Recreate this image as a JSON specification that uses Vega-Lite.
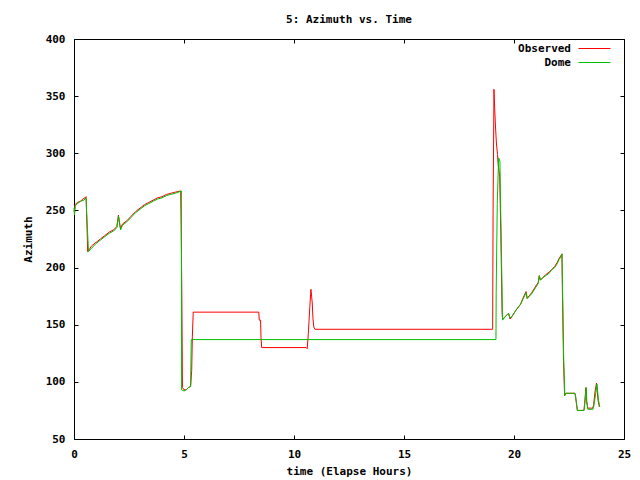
{
  "$schema": "https://vega.github.io/schema/vega-lite/v6.json",
  "width": 550,
  "height": 400,
  "autosize": "none",
  "padding": {"left": 74, "top": 39, "right": 16, "bottom": 41},
  "background": "white",
  "config": {
    "font": "DejaVu Sans Mono",
    "view": {"stroke": "black", "strokeWidth": 1},
    "axis": {"grid": false, "domain": false, "labelFlush": false, "tickColor": "black", "tickSize": -4, "labelColor": "black", "labelFont": "DejaVu Sans Mono", "labelFontWeight": "bold", "labelFontSize": 11, "titleFont": "DejaVu Sans Mono", "titleFontWeight": "bold", "titleFontSize": 11, "titleColor": "black"}
  },
  "title": {"text": "5: Azimuth vs. Time", "font": "DejaVu Sans Mono", "fontSize": 11, "fontWeight": "bold", "color": "black", "baseline": "alphabetic", "offset": -1},
  "data": {"values": [
    {"s":"Observed","t":0.00,"a":250},{"s":"Observed","t":0.03,"a":248},{"s":"Observed","t":0.05,"a":255},{"s":"Observed","t":0.15,"a":257},{"s":"Observed","t":0.30,"a":258},{"s":"Observed","t":0.40,"a":260},{"s":"Observed","t":0.50,"a":261},{"s":"Observed","t":0.55,"a":262},{"s":"Observed","t":0.57,"a":250},{"s":"Observed","t":0.60,"a":230},{"s":"Observed","t":0.62,"a":214},{"s":"Observed","t":0.70,"a":216},{"s":"Observed","t":0.80,"a":219},{"s":"Observed","t":1.00,"a":222},{"s":"Observed","t":1.20,"a":225},{"s":"Observed","t":1.40,"a":228},{"s":"Observed","t":1.60,"a":231},{"s":"Observed","t":1.80,"a":233},{"s":"Observed","t":1.95,"a":236},{"s":"Observed","t":2.02,"a":246},{"s":"Observed","t":2.08,"a":238},{"s":"Observed","t":2.12,"a":234},{"s":"Observed","t":2.20,"a":238},{"s":"Observed","t":2.40,"a":241},{"s":"Observed","t":2.60,"a":245},{"s":"Observed","t":2.80,"a":249},{"s":"Observed","t":3.00,"a":252},{"s":"Observed","t":3.20,"a":255},{"s":"Observed","t":3.40,"a":257},{"s":"Observed","t":3.60,"a":259},{"s":"Observed","t":3.80,"a":261},{"s":"Observed","t":4.00,"a":262},{"s":"Observed","t":4.20,"a":264},{"s":"Observed","t":4.40,"a":265},{"s":"Observed","t":4.60,"a":266},{"s":"Observed","t":4.85,"a":267},{"s":"Observed","t":4.87,"a":237},{"s":"Observed","t":4.90,"a":180},{"s":"Observed","t":4.93,"a":95},{"s":"Observed","t":5.00,"a":93},{"s":"Observed","t":5.10,"a":93},{"s":"Observed","t":5.20,"a":95},{"s":"Observed","t":5.30,"a":96},{"s":"Observed","t":5.35,"a":110},{"s":"Observed","t":5.38,"a":140},{"s":"Observed","t":5.42,"a":161},{"s":"Observed","t":8.40,"a":161},{"s":"Observed","t":8.42,"a":154},{"s":"Observed","t":8.48,"a":154},{"s":"Observed","t":8.50,"a":139},{"s":"Observed","t":8.53,"a":130},{"s":"Observed","t":10.55,"a":130},{"s":"Observed","t":10.60,"a":129},{"s":"Observed","t":10.65,"a":142},{"s":"Observed","t":10.72,"a":166},{"s":"Observed","t":10.77,"a":181},{"s":"Observed","t":10.80,"a":175},{"s":"Observed","t":10.83,"a":169},{"s":"Observed","t":10.86,"a":156},{"s":"Observed","t":10.90,"a":148},{"s":"Observed","t":10.95,"a":146},{"s":"Observed","t":19.03,"a":146},{"s":"Observed","t":19.05,"a":252},{"s":"Observed","t":19.09,"a":356},{"s":"Observed","t":19.12,"a":340},{"s":"Observed","t":19.16,"a":323},{"s":"Observed","t":19.20,"a":309},{"s":"Observed","t":19.25,"a":299},{"s":"Observed","t":19.28,"a":290},{"s":"Observed","t":19.35,"a":280},{"s":"Observed","t":19.40,"a":230},{"s":"Observed","t":19.46,"a":160},{"s":"Observed","t":19.48,"a":155},{"s":"Observed","t":19.55,"a":156},{"s":"Observed","t":19.65,"a":158},{"s":"Observed","t":19.75,"a":160},{"s":"Observed","t":19.82,"a":155},{"s":"Observed","t":19.90,"a":157},{"s":"Observed","t":20.10,"a":163},{"s":"Observed","t":20.30,"a":168},{"s":"Observed","t":20.40,"a":173},{"s":"Observed","t":20.55,"a":179},{"s":"Observed","t":20.60,"a":173},{"s":"Observed","t":20.80,"a":178},{"s":"Observed","t":21.00,"a":184},{"s":"Observed","t":21.10,"a":187},{"s":"Observed","t":21.15,"a":193},{"s":"Observed","t":21.20,"a":189},{"s":"Observed","t":21.30,"a":191},{"s":"Observed","t":21.45,"a":194},{"s":"Observed","t":21.60,"a":196},{"s":"Observed","t":21.70,"a":198},{"s":"Observed","t":21.85,"a":201},{"s":"Observed","t":21.95,"a":204},{"s":"Observed","t":22.05,"a":208},{"s":"Observed","t":22.15,"a":211},{"s":"Observed","t":22.18,"a":212},{"s":"Observed","t":22.20,"a":180},{"s":"Observed","t":22.25,"a":119},{"s":"Observed","t":22.30,"a":88},{"s":"Observed","t":22.35,"a":90},{"s":"Observed","t":22.77,"a":90},{"s":"Observed","t":22.80,"a":87},{"s":"Observed","t":22.88,"a":75},{"s":"Observed","t":23.18,"a":75},{"s":"Observed","t":23.21,"a":81},{"s":"Observed","t":23.27,"a":95},{"s":"Observed","t":23.30,"a":83},{"s":"Observed","t":23.35,"a":77},{"s":"Observed","t":23.58,"a":77},{"s":"Observed","t":23.62,"a":80},{"s":"Observed","t":23.68,"a":91},{"s":"Observed","t":23.75,"a":99},{"s":"Observed","t":23.82,"a":84},{"s":"Observed","t":23.88,"a":78},
    {"s":"Dome","t":0.00,"a":252},{"s":"Dome","t":0.02,"a":246},{"s":"Dome","t":0.05,"a":254},{"s":"Dome","t":0.15,"a":256},{"s":"Dome","t":0.30,"a":258},{"s":"Dome","t":0.45,"a":259},{"s":"Dome","t":0.55,"a":261},{"s":"Dome","t":0.57,"a":250},{"s":"Dome","t":0.62,"a":230},{"s":"Dome","t":0.66,"a":214},{"s":"Dome","t":0.80,"a":217},{"s":"Dome","t":1.00,"a":221},{"s":"Dome","t":1.20,"a":224},{"s":"Dome","t":1.40,"a":227},{"s":"Dome","t":1.60,"a":230},{"s":"Dome","t":1.80,"a":232},{"s":"Dome","t":1.95,"a":235},{"s":"Dome","t":2.02,"a":245},{"s":"Dome","t":2.08,"a":237},{"s":"Dome","t":2.12,"a":233},{"s":"Dome","t":2.20,"a":237},{"s":"Dome","t":2.40,"a":240},{"s":"Dome","t":2.60,"a":244},{"s":"Dome","t":2.80,"a":248},{"s":"Dome","t":3.00,"a":251},{"s":"Dome","t":3.20,"a":254},{"s":"Dome","t":3.40,"a":256},{"s":"Dome","t":3.60,"a":258},{"s":"Dome","t":3.80,"a":260},{"s":"Dome","t":4.00,"a":261},{"s":"Dome","t":4.20,"a":263},{"s":"Dome","t":4.40,"a":264},{"s":"Dome","t":4.60,"a":265},{"s":"Dome","t":4.88,"a":267},{"s":"Dome","t":4.89,"a":93},{"s":"Dome","t":5.00,"a":92},{"s":"Dome","t":5.10,"a":93},{"s":"Dome","t":5.20,"a":95},{"s":"Dome","t":5.30,"a":96},{"s":"Dome","t":5.33,"a":137},{"s":"Dome","t":19.18,"a":137},{"s":"Dome","t":19.19,"a":178},{"s":"Dome","t":19.24,"a":256},{"s":"Dome","t":19.30,"a":296},{"s":"Dome","t":19.36,"a":293},{"s":"Dome","t":19.39,"a":256},{"s":"Dome","t":19.45,"a":189},{"s":"Dome","t":19.48,"a":154},{"s":"Dome","t":19.60,"a":157},{"s":"Dome","t":19.75,"a":160},{"s":"Dome","t":19.82,"a":156},{"s":"Dome","t":19.90,"a":157},{"s":"Dome","t":20.10,"a":163},{"s":"Dome","t":20.30,"a":168},{"s":"Dome","t":20.40,"a":172},{"s":"Dome","t":20.55,"a":178},{"s":"Dome","t":20.60,"a":173},{"s":"Dome","t":20.80,"a":177},{"s":"Dome","t":21.00,"a":183},{"s":"Dome","t":21.10,"a":186},{"s":"Dome","t":21.15,"a":193},{"s":"Dome","t":21.20,"a":189},{"s":"Dome","t":21.30,"a":191},{"s":"Dome","t":21.45,"a":193},{"s":"Dome","t":21.60,"a":195},{"s":"Dome","t":21.70,"a":198},{"s":"Dome","t":21.85,"a":200},{"s":"Dome","t":21.95,"a":203},{"s":"Dome","t":22.05,"a":207},{"s":"Dome","t":22.15,"a":210},{"s":"Dome","t":22.18,"a":212},{"s":"Dome","t":22.21,"a":180},{"s":"Dome","t":22.26,"a":119},{"s":"Dome","t":22.31,"a":88},{"s":"Dome","t":22.36,"a":90},{"s":"Dome","t":22.77,"a":90},{"s":"Dome","t":22.80,"a":87},{"s":"Dome","t":22.88,"a":75},{"s":"Dome","t":23.18,"a":75},{"s":"Dome","t":23.22,"a":81},{"s":"Dome","t":23.28,"a":95},{"s":"Dome","t":23.31,"a":83},{"s":"Dome","t":23.36,"a":76},{"s":"Dome","t":23.59,"a":76},{"s":"Dome","t":23.64,"a":80},{"s":"Dome","t":23.72,"a":91},{"s":"Dome","t":23.77,"a":98},{"s":"Dome","t":23.84,"a":84},{"s":"Dome","t":23.90,"a":78}
  ]},
  "layer": [
    {
      "mark": {"type": "line", "strokeWidth": 1, "interpolate": "linear"},
      "encoding": {
        "x": {"field": "t", "type": "quantitative", "scale": {"domain": [0, 25], "nice": false, "zero": false}, "axis": {"orient": "bottom", "values": [0, 5, 10, 15, 20, 25], "labelPadding": 13, "title": "time (Elapse Hours)", "titlePadding": 6}},
        "y": {"field": "a", "type": "quantitative", "scale": {"domain": [50, 400], "nice": false, "zero": false}, "axis": {"orient": "left", "values": [50, 100, 150, 200, 250, 300, 350, 400], "labelPadding": 13, "title": "Azimuth", "titlePadding": 12}},
        "color": {"field": "s", "type": "nominal", "sort": ["Observed", "Dome"], "scale": {"domain": ["Observed", "Dome"], "range": ["#ff0000", "#00c000"]}, "legend": {"orient": "none", "legendX": 515, "legendY": 4, "title": null, "padding": 0, "symbolType": "M-4,0H4", "symbolSize": 64, "symbolStrokeWidth": 1, "symbolOpacity": 1, "labelAlign": "right", "labelOffset": -29, "labelFont": "DejaVu Sans Mono", "labelFontWeight": "bold", "labelFontSize": 11, "labelColor": "black", "rowPadding": 2, "encode": {"symbols": {"update": {"stroke": {"scale": "color", "field": "value"}, "strokeWidth": {"value": 1}, "opacity": {"value": 1}}}}}}
      }
    },
    {
      "mark": {"type": "line", "opacity": 0},
      "encoding": {
        "x": {"field": "t", "type": "quantitative", "axis": {"orient": "top", "values": [0, 5, 10, 15, 20, 25], "labels": false, "title": null}},
        "y": {"field": "a", "type": "quantitative", "axis": {"orient": "right", "values": [50, 100, 150, 200, 250, 300, 350, 400], "labels": false, "title": null}}
      }
    }
  ],
  "resolve": {"axis": {"x": "independent", "y": "independent"}}
}
